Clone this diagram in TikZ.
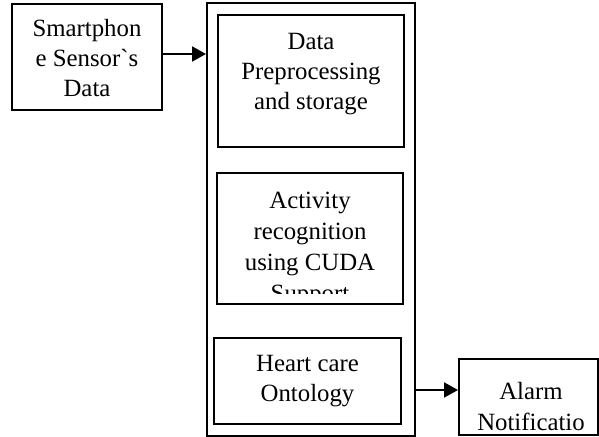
\documentclass[tikz,border=0pt]{standalone}
\usepackage{fontspec}
\newfontfamily\timesfont{Liberation Serif}
\usetikzlibrary{arrows.meta}

\begin{document}
\begin{tikzpicture}[x=0.5pt,y=0.5pt,yscale=-1,xscale=1,
  box/.style={draw, line width=1pt, inner sep=0pt, minimum width=#1},
  label/.style={anchor=base, inner sep=0pt, align=center, font=\timesfont\fontsize{12.4}{15}\selectfont},
  flow/.style={line width=1pt, -{Triangle[length=7pt,width=7.5pt]}}]
\useasboundingbox (0,0) rectangle (599,437);

%Shape: Rectangle [sensor data]
\node [box=75pt, minimum height=53pt] (sensor) at (87,57) {};
%Shape: Rectangle [server frame]
\node [box=104pt, minimum height=216.5pt] (server) at (311,219.5) {};
%Shape: Rectangle [preprocessing]
\node [box=93pt, minimum height=66pt] (prep) at (311,81) {};
%Shape: Rectangle [activity]
\node [box=93pt, minimum height=65.5pt] (activity) at (310,238.5) {};
%Shape: Rectangle [ontology]
\node [box=93.5pt, minimum height=43pt] (ontology) at (307.5,381) {};
%Shape: Rectangle [alarm]
\node [box=69.5pt, minimum height=38pt] (alarm) at (528.5,397) {};

%Straight Lines (yscale=-1 flips the shift)
\draw [flow] ([yshift=-1.5pt]sensor.east) -- ([yshift=-1.5pt]sensor.east -| server.west);
%Straight Lines
\draw [flow] ([yshift=-3.5pt]alarm.west -| server.east) -- ([yshift=-3.5pt]alarm.west);

% Text Node (base is the last line)
\node [label] (sensortext) at (87,97) {Smartphon\\e Sensor\symbol{96}s\\Data};
% Text Node
\node [label] (preptext) at (311,110) {Data\\Preprocessing\\and storage};
% Text Node
\begin{scope}
\clip (activity.north west) rectangle ([yshift=-5.5pt]activity.south east);
\node [label, font=\timesfont\fontsize{12.4}{15.5}\selectfont] (activitytext) at (310,302) {Activity\\recognition\\using CUDA\\Support};
\end{scope}
% Text Node
\node [label] (ontologytext) at (307.5,402) {Heart care\\Ontology};
% Text Node
\node [label] (alarmtext) at (531,430) {Alarm\\Notificatio};

\end{tikzpicture}
\end{document}
